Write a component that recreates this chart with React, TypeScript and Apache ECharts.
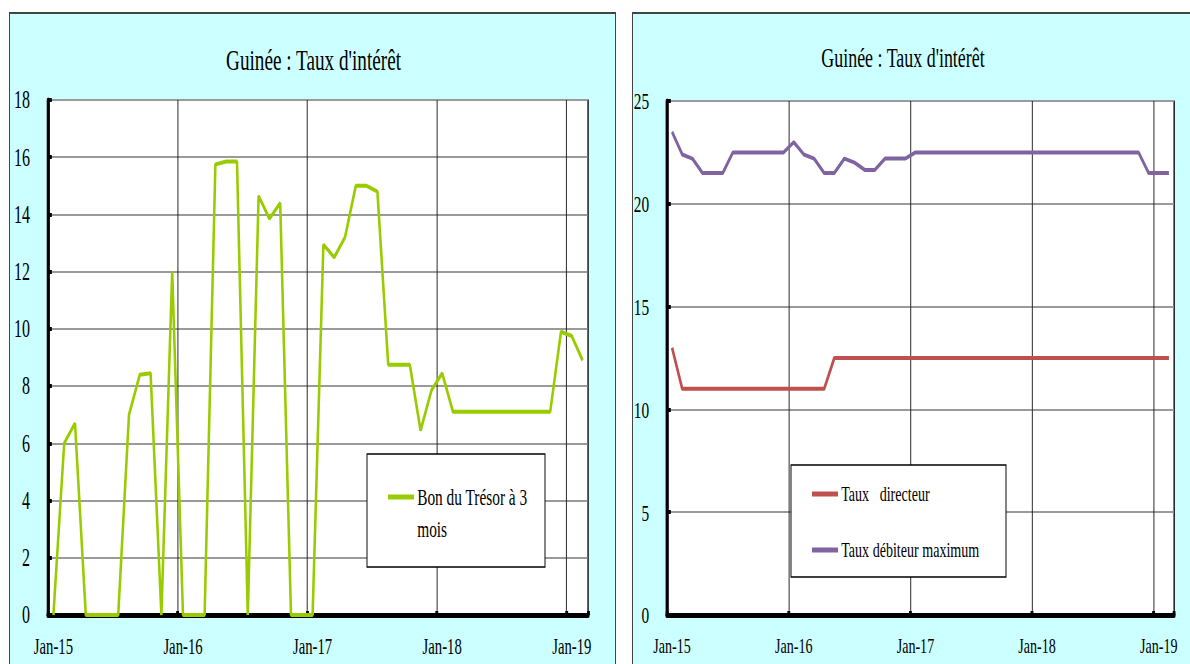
import React, { useEffect, useRef } from "react";
import * as echarts from "echarts";

// ---- data ----
const monthNames = ["Jan", "Feb", "Mar", "Apr", "May", "Jun", "Jul", "Aug", "Sep", "Oct", "Nov", "Dec"];
const yearSuffixes = ["15", "16", "17", "18", "19"];
const categories: string[] = [];
yearSuffixes.forEach((y) => monthNames.forEach((m) => categories.push(`${m}-${y}`)));
const months = categories.slice(0, 50); // Jan-15 .. Feb-19

const tbill3m = [
  0, 6.0, 6.7, 0, 0, 0, 0, 7.0, 8.4, 8.45, 0, 12.0,
  0, 0, 0, 15.75, 15.85, 15.85, 0, 14.65, 13.85, 14.4, 0, 0,
  0, 12.95, 12.5, 13.2, 15.0, 15.0, 14.8, 8.75, 8.75, 8.75, 6.45, 7.85,
  8.45, 7.1, 7.1, 7.1, 7.1, 7.1, 7.1, 7.1, 7.1, 7.1, 7.1, 9.9,
  9.75, 8.9,
];
const policyRate = [
  13.0, 11, 11, 11, 11, 11, 11, 11, 11, 11, 11, 11,
  11, 11, 11, 11, 12.5, 12.5, 12.5, 12.5, 12.5, 12.5, 12.5, 12.5,
  12.5, 12.5, 12.5, 12.5, 12.5, 12.5, 12.5, 12.5, 12.5, 12.5, 12.5, 12.5,
  12.5, 12.5, 12.5, 12.5, 12.5, 12.5, 12.5, 12.5, 12.5, 12.5, 12.5, 12.5,
  12.5, 12.5,
];
const maxLendingRate = [
  23.5, 22.4, 22.2, 21.5, 21.5, 21.5, 22.5, 22.5, 22.5, 22.5, 22.5, 22.5,
  23.0, 22.4, 22.2, 21.5, 21.5, 22.2, 22.0, 21.65, 21.65, 22.2, 22.2, 22.2,
  22.5, 22.5, 22.5, 22.5, 22.5, 22.5, 22.5, 22.5, 22.5, 22.5, 22.5, 22.5,
  22.5, 22.5, 22.5, 22.5, 22.5, 22.5, 22.5, 22.5, 22.5, 22.5, 22.5, 21.5,
  21.5, 21.5,
];

const titleText = "Guinée : Taux d'intérêt";
const nameTbill = "Bon du Trésor à 3 mois";
const legendTbill = "Bon du Trésor à 3\nmois";
const namePolicy = "Taux   directeur";
const nameLending = "Taux débiteur maximum";

// ---- layout ----
const S = 0.64; // the reference is horizontally condensed
const X = (px: number) => px / S;
const CW = Math.round(1190 / S);
const FONT = "Liberation Serif";
const GREEN = "#99CC00";
const RED = "#C0504D";
const PURPLE = "#8064A2";

const isYearStart = (index: number) => index % 12 === 0;

function xAxis(gridIndex: number, fontSize: number) {
  return {
    type: "category",
    gridIndex,
    data: months,
    boundaryGap: true,
    axisLine: { show: true, onZero: false, lineStyle: { color: "#000", width: 5 } },
    axisTick: { show: true, inside: true, length: 4, interval: isYearStart, lineStyle: { color: "#000", width: 4.5 } },
    axisLabel: { show: true, interval: isYearStart, margin: 20, color: "#000", fontFamily: FONT, fontSize },
    splitLine: { show: true, interval: isYearStart, lineStyle: { color: "#222", width: 1.5 } },
  };
}

function yAxis(gridIndex: number, max: number, interval: number, fontSize: number) {
  return {
    type: "value",
    gridIndex,
    min: 0,
    max,
    interval,
    axisLine: { show: true, lineStyle: { color: "#000", width: 5 } },
    axisTick: { show: true, inside: true, length: 6, lineStyle: { color: "#000", width: 4 } },
    axisLabel: { margin: 28, color: "#000", fontFamily: FONT, fontSize },
    splitLine: { show: true, lineStyle: { color: "#9a9a9a", width: 2 } },
  };
}

export default function App() {
  const ref = useRef<HTMLDivElement>(null);

  useEffect(() => {
    if (!ref.current) return;
    const chart = echarts.init(ref.current, null, { renderer: "svg" });
    const option: any = {
      animation: false,
      backgroundColor: "transparent",
      textStyle: { fontFamily: FONT },
      grid: [
        {
          left: X(48), top: 100, width: X(588) - X(48), height: 515,
          show: true, backgroundColor: "#fff", borderColor: "#000", borderWidth: 1.5,
          containLabel: false, outerBoundsMode: "none",
        },
        {
          left: X(667), top: 101, width: X(1174) - X(667), height: 514,
          show: true, backgroundColor: "#fff", borderColor: "#000", borderWidth: 1.5,
          containLabel: false, outerBoundsMode: "none",
        },
      ],
      xAxis: [xAxis(0, 23), xAxis(1, 22)],
      yAxis: [yAxis(0, 18, 2, 25), yAxis(1, 25, 5, 24)],
      legend: [
        {
          data: [nameTbill],
          left: X(388), top: 449, padding: 0, z: 6,
          icon: "rect",
          itemWidth: X(414) - X(388), itemHeight: 5,
          selectedMode: false,
          formatter: () => "\n" + legendTbill,
          textStyle: { color: "#000", fontFamily: FONT, fontSize: 24, lineHeight: 32 },
        },
        {
          data: [namePolicy, nameLending],
          orient: "vertical",
          left: X(812), top: 482, padding: 0, z: 6,
          icon: "rect",
          itemWidth: X(838) - X(812), itemHeight: 5, itemGap: 32,
          selectedMode: false,
          textStyle: { color: "#000", fontFamily: FONT, fontSize: 22, lineHeight: 24 },
        },
      ],
      graphic: [
        {
          type: "text", x: X(313.5), y: 60,
          style: { text: titleText, fontFamily: FONT, fontSize: 30, fill: "#000", textAlign: "center", textVerticalAlign: "middle", align: "center", verticalAlign: "middle" },
        },
        {
          type: "text", x: X(903), y: 57,
          style: { text: titleText, fontFamily: FONT, fontSize: 28, fill: "#000", textAlign: "center", textVerticalAlign: "middle", align: "center", verticalAlign: "middle" },
        },
        {
          type: "rect", z: 5,
          shape: { x: X(367), y: 454, width: X(545) - X(367), height: 113 },
          style: { fill: "#fff", stroke: "#000", lineWidth: 1.5 },
        },
        {
          type: "rect", z: 5,
          shape: { x: X(791), y: 465, width: X(1006) - X(791), height: 112 },
          style: { fill: "#fff", stroke: "#000", lineWidth: 1.5 },
        },
      ],
      series: [
        {
          name: nameTbill, type: "line", xAxisIndex: 0, yAxisIndex: 0,
          data: tbill3m, showSymbol: false, symbol: "none", color: GREEN,
          itemStyle: { color: GREEN },
          lineStyle: { color: GREEN, width: 4 }, z: 3,
        },
        {
          name: namePolicy, type: "line", xAxisIndex: 1, yAxisIndex: 1,
          data: policyRate, showSymbol: false, symbol: "none", color: RED,
          itemStyle: { color: RED },
          lineStyle: { color: RED, width: 4 }, z: 3,
        },
        {
          name: nameLending, type: "line", xAxisIndex: 1, yAxisIndex: 1,
          data: maxLendingRate, showSymbol: false, symbol: "none", color: PURPLE,
          itemStyle: { color: PURPLE },
          lineStyle: { color: PURPLE, width: 4 }, z: 3,
        },
      ],
    };
    chart.setOption(option);
    return () => chart.dispose();
  }, []);

  const panel = (left: number, width: number): React.CSSProperties => ({
    position: "absolute",
    left,
    top: 12,
    width,
    height: 700,
    background: "#CCFFFF",
    border: "1px solid #444",
    borderTop: "2px solid #444",
    boxSizing: "border-box",
  });

  return (
    <div style={{ position: "fixed", left: 0, top: 0, width: 1190, height: 664, overflow: "hidden", background: "#fff" }}>
      <div style={panel(9, 607)} />
      <div style={panel(632, 600)} />
      <div
        ref={ref}
        style={{ position: "absolute", left: 0, top: 0, width: CW, height: 664, transform: `scaleX(${S})`, transformOrigin: "0 0" }}
      />
    </div>
  );
}
